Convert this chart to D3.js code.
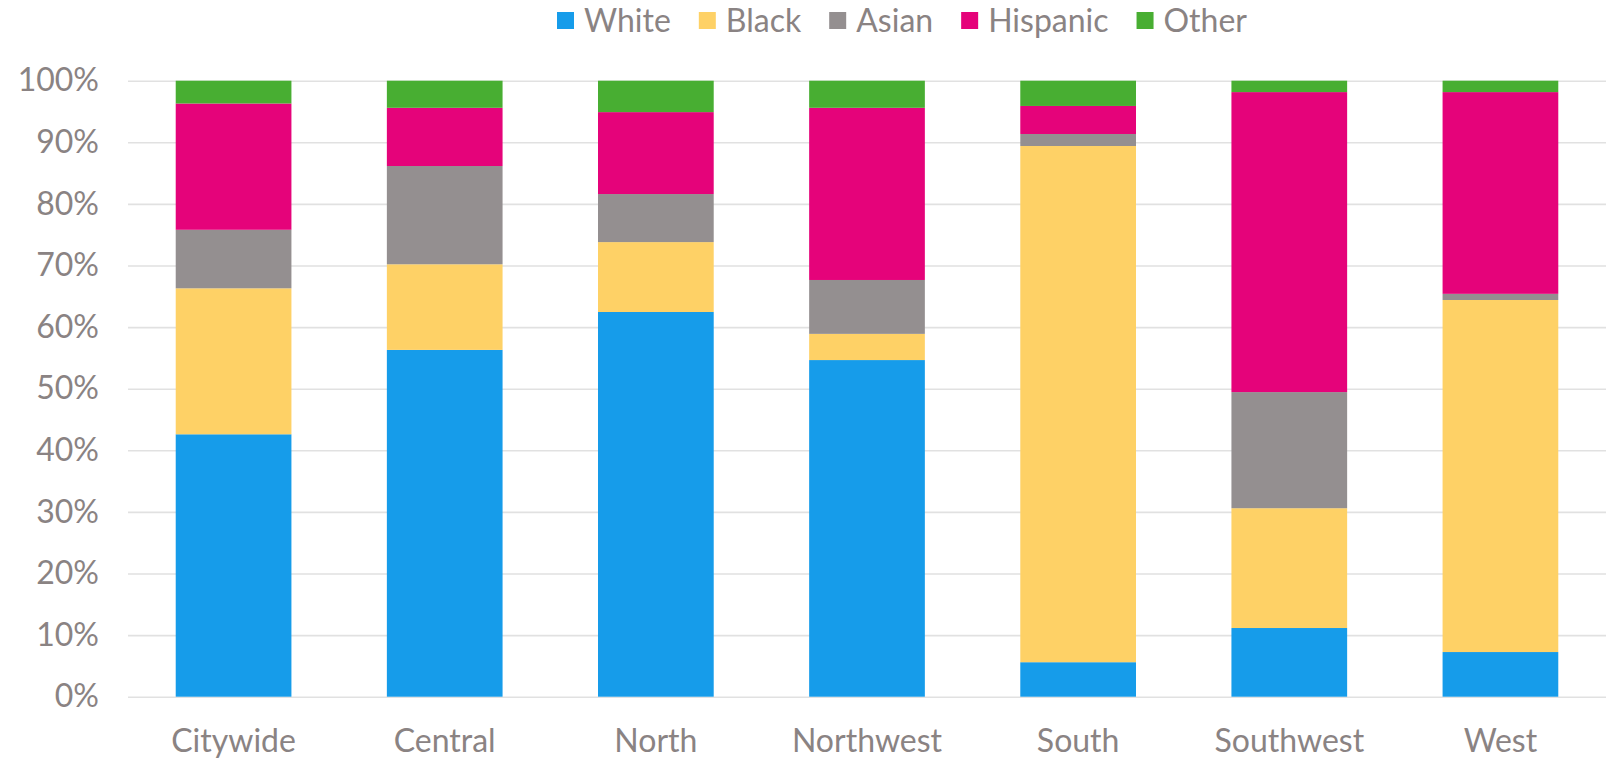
<!DOCTYPE html>
<html>
<head>
<meta charset="utf-8">
<script src="https://cdn.jsdelivr.net/npm/d3@7/dist/d3.min.js"></script>
<style>
    body { margin: 0; background: #fff; }
    text { font-family: Lato, "Open Sans", sans-serif; fill: #8a8383; }
</style>
</head>
<body>
<div class="chart"></div>
<script>
    var svgWidth = 1612;
    var svgHeight = 759;

    // data (percent of each district)
    var districts = ["Citywide", "Central", "North", "Northwest", "South", "Southwest", "West"];
    var groups = ["White", "Black", "Asian", "Hispanic", "Other"];
    var white    = [42.6, 56.3, 62.45, 54.65, 5.6, 11.15, 7.25];
    var black    = [23.7, 13.9, 11.35, 4.25, 83.8, 19.45, 57.15];
    var asian    = [9.5, 15.95, 7.8, 8.75, 1.95, 18.85, 1.0];
    var hispanic = [20.5, 9.45, 13.3, 27.95, 4.55, 48.7, 32.75];
    var other    = [3.7, 4.4, 5.1, 4.4, 4.1, 1.85, 1.85];
    var yTicks = [0, 10, 20, 30, 40, 50, 60, 70, 80, 90, 100];
    var colors = ["#169cea", "#fed166", "#948f90", "#e5037a", "#48ae32"];

    var margin = { top: 80.7, right: 6, bottom: 62.3, left: 128 };
    var width = svgWidth - margin.left - margin.right;
    var height = svgHeight - margin.top - margin.bottom;

    var svg = d3.select(".chart")
        .append("svg")
        .attr("width", svgWidth)
        .attr("height", svgHeight);

    var chartGroup = svg.append("g")
        .attr("transform", `translate(${margin.left}, ${margin.top})`);

    var table = districts.map(function(d, i) {
        return { district: d, White: white[i], Black: black[i], Asian: asian[i], Hispanic: hispanic[i], Other: other[i] };
    });

    var stacked = d3.stack().keys(groups)(table);

    var xBandScale = d3.scaleBand()
        .domain(districts)
        .range([0, width])
        .paddingInner(0.452)
        .paddingOuter(0.226);

    var yLinearScale = d3.scaleLinear()
        .domain([0, 100])
        .range([height, 0]);

    var colorScale = d3.scaleOrdinal().domain(groups).range(colors);

    // gridlines
    var yAxis = d3.axisLeft(yLinearScale)
        .tickValues(yTicks)
        .tickSize(-width)
        .tickPadding(29)
        .tickFormat(d => d + "%");

    var yAxisGroup = chartGroup.append("g").call(yAxis);
    yAxisGroup.select(".domain").remove();
    yAxisGroup.selectAll("line")
        .attr("stroke", "#e1e1e1")
        .attr("stroke-width", 1.6);
    yAxisGroup.selectAll("text")
        .attr("fill", "#8a8383")
        .style("font-size", "32px")
        .attr("font-family", "Lato");

    // bars
    chartGroup.selectAll(".layer")
        .data(stacked)
        .enter()
        .append("g")
        .attr("class", "layer")
        .attr("fill", d => colorScale(d.key))
        .selectAll("rect")
        .data(d => d)
        .enter()
        .append("rect")
        .attr("x", d => xBandScale(d.data.district))
        .attr("y", d => yLinearScale(d[1]))
        .attr("height", d => yLinearScale(d[0]) - yLinearScale(d[1]))
        .attr("width", xBandScale.bandwidth());

    // category axis
    var xAxis = d3.axisBottom(xBandScale).tickSize(0).tickPadding(33);
    var xAxisGroup = chartGroup.append("g")
        .attr("transform", `translate(0, ${height})`)
        .call(xAxis);
    xAxisGroup.select(".domain").remove();
    xAxisGroup.selectAll("text")
        .attr("fill", "#8a8383")
        .style("font-size", "32px")
        .attr("font-family", "Lato");

    // legend
    var legend = svg.append("g").attr("class", "legend");
    var lx = 557;
    groups.forEach(function(g, i) {
        legend.append("rect")
            .attr("x", lx)
            .attr("y", 12)
            .attr("width", 17)
            .attr("height", 17)
            .attr("fill", colors[i]);
        var t = legend.append("text")
            .attr("x", lx + 27)
            .attr("y", 32)
            .style("font-size", "32px")
            .text(g);
        lx += 27 + t.node().getComputedTextLength() + 28;
    });
</script>
</body>
</html>
